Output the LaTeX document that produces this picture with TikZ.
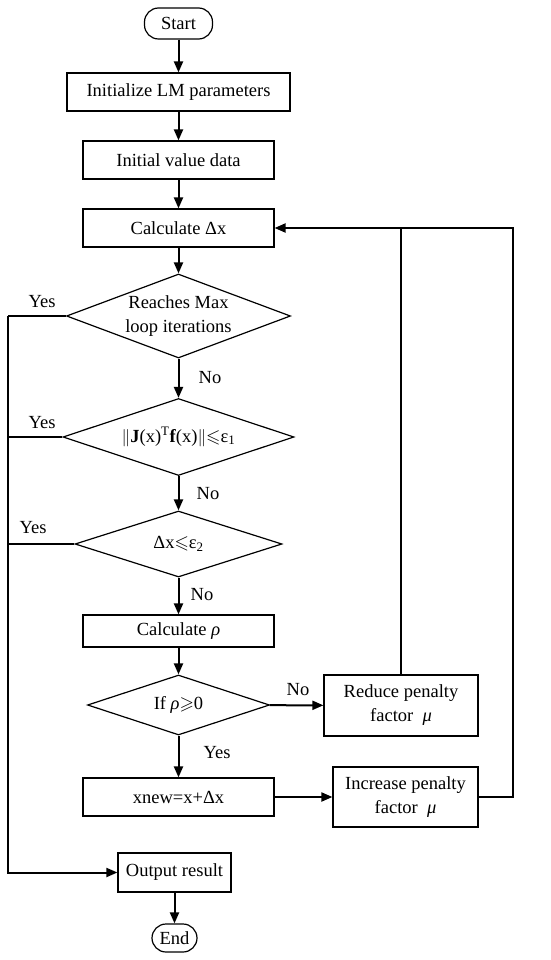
\documentclass[tikz,border=0pt]{standalone}
\usepackage{amssymb}
\usepackage{fontspec}
\setmainfont{Liberation Serif}
\usetikzlibrary{shapes.geometric,arrows.meta}
\begin{document}
\begin{tikzpicture}[x=1pt,y=-1pt,
  every node/.style={font=\fontsize{18.5}{24}\selectfont},
  box/.style={draw,line width=1.2pt,inner sep=0pt,align=center},
  term/.style={box,rounded corners=14pt},
  dia/.style={draw,diamond,line width=1.2pt,inner sep=0pt},
  dtext/.style={inner sep=0pt,align=center},
  arr/.style={line width=2pt,-{Triangle[length=11pt,width=9pt]}},
  ln/.style={line width=2pt},
  lbl/.style={inner sep=0pt}]
\useasboundingbox (0,0) rectangle (550,960);
\node[term,minimum width=68pt,minimum height=31pt] (start) at (178.5,23.5) {Start};
\node[box,minimum width=223pt,minimum height=38pt] (init) at (178.5,92) {Initialize LM parameters};
\node[box,minimum width=191pt,minimum height=38pt] (ival) at (178.5,160) {Initial value data};
\node[box,minimum width=191pt,minimum height=38pt] (calc) at (178.5,228) {Calculate Δx};
\node[dia,minimum width=224pt,minimum height=84pt] (d1) at (178.5,316) {};
\node[dtext] (d1t) at (d1.center) {Reaches Max\\loop iterations};
\node[dia,minimum width=231pt,minimum height=77pt] (d2) at (178.5,437) {};
\node[dtext] (d2t) at (d2.center) {$\|$\textbf{J}(x)\textsuperscript{T}\textbf{f}(x)$\|{\leqslant}$ε\textsubscript{1}};
\node[dia,minimum width=207pt,minimum height=66pt] (d3) at (178.5,544) {};
\node[dtext] (d3t) at (d3.center) {Δx$\leqslant$ε\textsubscript{2}};
\node[box,minimum width=191pt,minimum height=32pt] (calcr) at (178.5,631) {Calculate \textit{ρ}};
\node[dia,minimum width=182pt,minimum height=60pt] (d4) at (178.5,705) {};
\node[dtext] (d4t) at (d4.center) {If \textit{ρ}$\geqslant$0};
\node[box,minimum width=154pt,minimum height=61pt] (red) at (401,705.5) {Reduce penalty\\factor\ \ \textit{μ}};
\node[box,minimum width=191pt,minimum height=38pt] (xnew) at (178.5,797) {xnew=x+Δx};
\node[box,minimum width=145pt,minimum height=60pt] (inc) at (405.5,797) {Increase penalty\\factor\ \ \textit{μ}};
\node[box,minimum width=113pt,minimum height=39pt] (out) at (174.5,872.5) {Output result};
\node[term,minimum width=45pt,minimum height=28pt] (end) at (174.5,938) {End};
% labels
\node[lbl] (y1) at (42,302) {Yes};
\node[lbl] (y2) at (42,423) {Yes};
\node[lbl] (y3) at (33,528) {Yes};
\node[lbl] (n1) at (210,378) {No};
\node[lbl] (n2) at (208,494) {No};
\node[lbl] (n3) at (202,595) {No};
\node[lbl] (n4) at (298,690) {No};
\node[lbl] (y4) at (217,753) {Yes};
% coordinates
\coordinate (L1) at (7.5,316);
\coordinate (L2) at (7.5,437);
\coordinate (L3) at (7.5,544);
\coordinate (L4) at (7.5,872.5);
\coordinate (R1) at (400,228);
\coordinate (R2) at (513,228);
\coordinate (R3) at (513,797);
% main flow
\draw[arr] (start) -- (init);
\draw[arr] (init) -- (ival);
\draw[arr] (ival) -- (calc);
\draw[arr] (calc) -- (d1);
\draw[arr] (d1) -- (d2);
\draw[arr] (d2) -- (d3);
\draw[arr] (d3) -- (calcr);
\draw[arr] (calcr) -- (d4);
\draw[arr] (d4) -- (xnew);
\draw[arr] (d4) -- (red);
\draw[arr] (xnew) -- (inc);
\draw[arr] (out) -- (end);
% yes branches
\draw[ln] (d1.west) -- (L1);
\draw[ln] (d2.west) -- (L2);
\draw[ln] (d3.west) -- (L3);
\draw[arr] (L1) -- (L4) -- (out.west);
% feedback
\draw[ln] (red.north) -- (red.north |- R1);
\draw[arr] (inc.east) -- (R3) -- (R2) -- (calc.east);
\end{tikzpicture}
\end{document}
